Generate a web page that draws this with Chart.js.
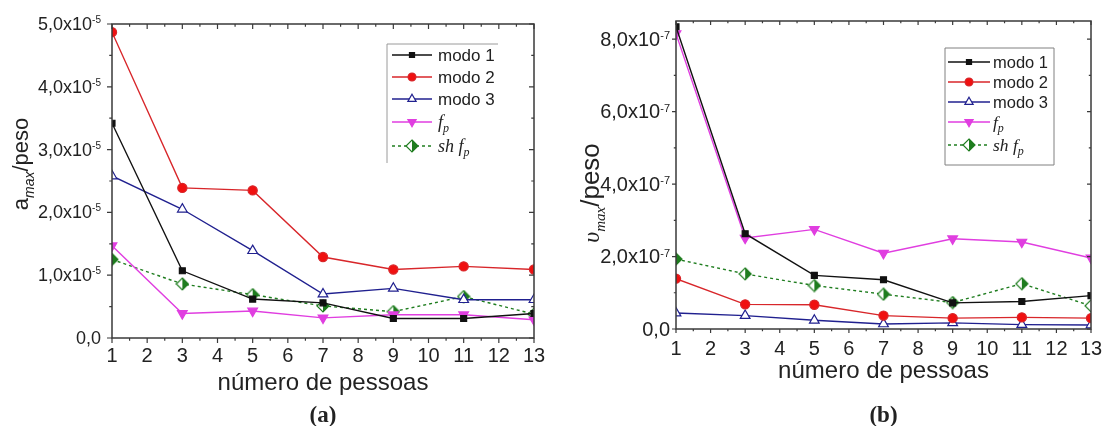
<!DOCTYPE html>
<html>
<head>
<meta charset="utf-8">
<script src="https://cdn.jsdelivr.net/npm/chart.js@4.4.0/dist/chart.umd.min.js"></script>
<style>
  body { margin: 0; background: #fff; }
  #wrap { position: relative; width: 1103px; height: 426px; overflow: hidden; }
  #chartA { position: absolute; left: 0; top: 0; }
  #chartB { position: absolute; left: 552px; top: 0; }
</style>
</head>
<body>
<div id="wrap">
  <canvas id="chartA" width="552" height="426"></canvas>
  <canvas id="chartB" width="551" height="426"></canvas>
</div>
<script>
const people = [1, 3, 5, 7, 9, 11, 13];
const seriesNames = ['modo 1', 'modo 2', 'modo 3', 'f_p', 'sh f_p'];

// (a) aceleração máxima por peso
const accModo1 = [3.42e-5, 1.07e-5, 0.62e-5, 0.56e-5, 0.31e-5, 0.31e-5, 0.39e-5];
const accModo2 = [4.87e-5, 2.39e-5, 2.35e-5, 1.29e-5, 1.09e-5, 1.14e-5, 1.09e-5];
const accModo3 = [2.58e-5, 2.05e-5, 1.39e-5, 0.70e-5, 0.79e-5, 0.61e-5, 0.61e-5];
const accFp    = [1.47e-5, 0.39e-5, 0.43e-5, 0.32e-5, 0.37e-5, 0.37e-5, 0.29e-5];
const accShFp  = [1.25e-5, 0.86e-5, 0.69e-5, 0.51e-5, 0.42e-5, 0.66e-5, 0.38e-5];

// (b) velocidade máxima por peso
const velModo1 = [8.34e-7, 2.63e-7, 1.48e-7, 1.36e-7, 0.72e-7, 0.76e-7, 0.92e-7];
const velModo2 = [1.39e-7, 0.68e-7, 0.67e-7, 0.37e-7, 0.30e-7, 0.32e-7, 0.30e-7];
const velModo3 = [0.44e-7, 0.37e-7, 0.24e-7, 0.14e-7, 0.17e-7, 0.12e-7, 0.11e-7];
const velFp    = [8.15e-7, 2.51e-7, 2.75e-7, 2.09e-7, 2.49e-7, 2.40e-7, 1.96e-7];
const velShFp  = [1.93e-7, 1.52e-7, 1.20e-7, 0.96e-7, 0.73e-7, 1.25e-7, 0.64e-7];

const accTicks = [0, 1e-5, 2e-5, 3e-5, 4e-5, 5e-5];
const accTickLabels = ['0,0', '1,0x10^-5', '2,0x10^-5', '3,0x10^-5', '4,0x10^-5', '5,0x10^-5'];
const velTicks = [0, 2e-7, 4e-7, 6e-7, 8e-7];
const velTickLabels = ['0,0', '2,0x10^-7', '4,0x10^-7', '6,0x10^-7', '8,0x10^-7'];

const SANS = '"Liberation Sans", Arial, sans-serif';
const SERIF = '"Liberation Serif", "Times New Roman", serif';

// half filled diamond marker (open left, green right)
function halfDiamond(size, color) {
  const c = document.createElement('canvas');
  c.width = size; c.height = size;
  const g = c.getContext('2d');
  const m = size / 2, r = size / 2 - 1;
  const path = () => {
    g.beginPath();
    g.moveTo(m, m - r); g.lineTo(m + r, m); g.lineTo(m, m + r); g.lineTo(m - r, m); g.closePath();
  };
  path(); g.fillStyle = '#fff'; g.fill();
  g.save(); g.beginPath(); g.rect(m, 0, m, size); g.clip();
  path(); g.fillStyle = color; g.fill(); g.restore();
  path(); g.strokeStyle = color; g.lineWidth = 1.2; g.stroke();
  return c;
}

const styles = [
  { line: '#111', fill: '#111', pointStyle: 'rect', radius: 4.2 },
  { line: '#d8262a', fill: '#f01010', pointStyle: 'circle', radius: 4.6 },
  { line: '#20208f', fill: '#fff', pointStyle: 'triangle', radius: 5.6 },
  { line: '#e03ee0', fill: '#e03ee0', pointStyle: 'triangle', radius: 5.6, rotation: 180 },
  { line: '#1f7d1f', fill: '#1f7d1f', pointStyle: halfDiamond(14, '#1f7d1f'), radius: 6, dash: [3, 3] }
];

function makeDatasets(series) {
  return series.map((vals, i) => {
    const s = styles[i];
    return {
      label: seriesNames[i],
      data: people.map((p, k) => ({ x: p, y: vals[k] })),
      borderColor: s.line,
      borderWidth: 1.4,
      borderDash: s.dash || [],
      pointStyle: s.pointStyle,
      pointRadius: s.radius,
      pointRotation: s.rotation || 0,
      pointBackgroundColor: s.fill,
      pointBorderColor: s.line,
      pointBorderWidth: 1.2,
      tension: 0
    };
  });
}

// text pieces; "_" marks a subscript
function drawRuns(ctx, runs, x, y, align) {
  let w = 0;
  runs.forEach(r => { ctx.font = r.font; w += ctx.measureText(r.t).width; });
  let cx = align === 'center' ? x - w / 2 : x;
  ctx.textAlign = 'left';
  runs.forEach(r => {
    ctx.font = r.font;
    ctx.fillText(r.t, cx, y + (r.dy || 0));
    cx += ctx.measureText(r.t).width;
  });
}

function labelRuns(name, size) {
  if (name.indexOf('_') < 0) return [{ t: name, font: size + 'px ' + SANS }];
  const parts = name.split('_');
  return [
    { t: parts[0], font: 'italic ' + (size + 1) + 'px ' + SERIF },
    { t: parts[1], font: 'italic ' + Math.round(size * 0.7) + 'px ' + SERIF, dy: 6 }
  ];
}

function framePlugin(cfg) {
  return {
    id: 'frame',
    afterDraw(chart) {
      const ctx = chart.ctx;
      const { left, right, top, bottom } = chart.chartArea;
      const xs = chart.scales.x, ys = chart.scales.y;
      ctx.save();

      // box and tick marks
      ctx.strokeStyle = '#3a3a3a';
      ctx.lineWidth = 1.5;
      ctx.strokeRect(left, top, right - left, bottom - top);
      ctx.lineWidth = 1.2;
      ctx.beginPath();
      for (let v = xs.min; v <= xs.max + 1e-9; v += 0.5) {
        const px = xs.getPixelForValue(v);
        const len = Number.isInteger(v) ? cfg.tickLen : cfg.tickLen * 0.55;
        ctx.moveTo(px, bottom); ctx.lineTo(px, bottom + len);
        ctx.moveTo(px, top); ctx.lineTo(px, top + len);
      }
      const yt = cfg.yTicks;
      const step = yt[1] - yt[0];
      const yMarks = [];
      yt.forEach(v => yMarks.push([v, true]));
      for (let v = yt[0] + step / 2; v <= ys.max + 1e-20; v += step) yMarks.push([v, false]);
      yMarks.forEach(([v, major]) => {
        const py = ys.getPixelForValue(v);
        const len = major ? cfg.tickLen : cfg.tickLen * 0.55;
        ctx.moveTo(left, py); ctx.lineTo(left - len, py);
        ctx.moveTo(right, py); ctx.lineTo(right - len, py);
      });
      ctx.stroke();

      // y tick labels with exponent
      ctx.fillStyle = '#222';
      yt.forEach((v, i) => {
        const py = ys.getPixelForValue(v);
        const [base, exp] = cfg.yLabels[i].split('^');
        let xr = left - cfg.labelGap;
        if (exp) {
          ctx.font = cfg.expSize + 'px ' + SANS;
          const ew = ctx.measureText(exp).width;
          ctx.textAlign = 'left';
          ctx.textBaseline = 'alphabetic';
          ctx.fillText(exp, xr - ew, py + cfg.expDy);
          xr -= ew;
        }
        ctx.font = cfg.yTickSize + 'px ' + SANS;
        ctx.textAlign = 'right';
        ctx.textBaseline = 'middle';
        ctx.fillText(base, xr, py + 1);
      });

      // y axis title
      ctx.save();
      ctx.translate(cfg.yTitleX, cfg.yTitleY);
      ctx.rotate(-Math.PI / 2);
      ctx.textBaseline = 'alphabetic';
      drawRuns(ctx, cfg.yTitle, 0, 0, 'center');
      ctx.restore();

      // caption
      ctx.font = 'bold 23px ' + SERIF;
      ctx.textAlign = 'center';
      ctx.textBaseline = 'middle';
      ctx.fillText(cfg.caption, (left + right) / 2, cfg.captionY);

      // legend
      const lg = cfg.legend;
      ctx.strokeStyle = lg.border;
      ctx.lineWidth = 1;
      ctx.beginPath();
      if (lg.full) {
        ctx.rect(lg.x, lg.y, lg.w, lg.h);
      } else {
        ctx.moveTo(lg.x, lg.y + lg.h); ctx.lineTo(lg.x, lg.y); ctx.lineTo(lg.x + lg.w, lg.y);
      }
      ctx.stroke();
      chart.data.datasets.forEach((ds, i) => {
        const ry = lg.rows[i];
        ctx.strokeStyle = ds.borderColor;
        ctx.lineWidth = 1.4;
        ctx.setLineDash(ds.borderDash);
        ctx.beginPath();
        ctx.moveTo(lg.lineX0, ry); ctx.lineTo(lg.lineX1, ry);
        ctx.stroke();
        ctx.setLineDash([]);
        ctx.fillStyle = ds.pointBackgroundColor;
        ctx.strokeStyle = ds.pointBorderColor;
        ctx.lineWidth = 1.2;
        Chart.helpers.drawPoint(ctx, {
          pointStyle: ds.pointStyle, radius: ds.pointRadius * 0.85,
          rotation: ds.pointRotation, borderWidth: 1.2
        }, (lg.lineX0 + lg.lineX1) / 2, ry);
        ctx.fillStyle = '#222';
        ctx.textBaseline = 'middle';
        drawRuns(ctx, labelRuns(ds.label, lg.size), lg.textX, ry + 1, 'left');
      });

      ctx.restore();
    }
  };
}

function buildChart(id, series, opt) {
  return new Chart(document.getElementById(id), {
    type: 'line',
    data: { datasets: makeDatasets(series) },
    options: {
      responsive: false,
      animation: false,
      layout: { padding: { top: opt.top, right: opt.right, left: 0, bottom: 0 } },
      plugins: { legend: { display: false }, tooltip: { enabled: false } },
      scales: {
        x: {
          type: 'linear', min: 1, max: 13,
          ticks: { stepSize: 1, color: '#222', padding: opt.xPad, font: { family: SANS, size: 20 } },
          grid: { display: false, drawTicks: false },
          border: { display: false },
          title: {
            display: true, text: 'número de pessoas', color: '#222',
            font: { family: SANS, size: 24 }, padding: { top: 0, bottom: opt.titlePad }
          },
          afterFit: s => { s.height = opt.xHeight; s.paddingLeft = 0; s.paddingRight = 0; }
        },
        y: {
          type: 'linear', min: 0, max: opt.yMax,
          afterBuildTicks: s => { s.ticks = opt.frame.yTicks.map(v => ({ value: v })); },
          ticks: { display: false },
          grid: { display: false, drawTicks: false },
          border: { display: false },
          afterFit: s => { s.width = opt.yWidth; }
        }
      }
    },
    plugins: [framePlugin(opt.frame)]
  });
}

buildChart('chartA', [accModo1, accModo2, accModo3, accFp, accShFp], {
  top: 24, right: 18, xHeight: 88, yWidth: 112, xPad: 6, titlePad: 28, yMax: 5e-5,
  frame: {
    yTicks: accTicks, yLabels: accTickLabels, yTickSize: 18, expSize: 10, expDy: -1,
    labelGap: 11, tickLen: 5,
    yTitle: [
      { t: 'a', font: '22px ' + SANS },
      { t: 'max', font: 'italic 14px ' + SANS, dy: 6 },
      { t: '/peso', font: '22px ' + SANS }
    ],
    yTitleX: 28, yTitleY: 164,
    caption: '(a)', captionY: 416,
    legend: {
      x: 387, y: 44, w: 111, h: 119, full: false, border: '#9a9a9a',
      rows: [55, 77, 99, 122, 146], lineX0: 392, lineX1: 432, textX: 438, size: 17
    }
  }
});

buildChart('chartB', [velModo1, velModo2, velModo3, velFp, velShFp], {
  top: 21, right: 12, xHeight: 97, yWidth: 124, xPad: 8, titlePad: 40, yMax: 8.5e-7,
  frame: {
    yTicks: velTicks, yLabels: velTickLabels, yTickSize: 20, expSize: 11, expDy: 0,
    labelGap: 6, tickLen: 4,
    yTitle: [
      { t: 'υ', font: 'italic 24px ' + SERIF },
      { t: 'max', font: 'italic 15px ' + SERIF, dy: 6 },
      { t: '/peso', font: '26px ' + SANS }
    ],
    yTitleX: 47, yTitleY: 193,
    caption: '(b)', captionY: 416,
    legend: {
      x: 393, y: 48, w: 109, h: 117, full: true, border: '#808080',
      rows: [62, 82, 102, 122, 145], lineX0: 396, lineX1: 438, textX: 441, size: 16.5
    }
  }
});
</script>
</body>
</html>
